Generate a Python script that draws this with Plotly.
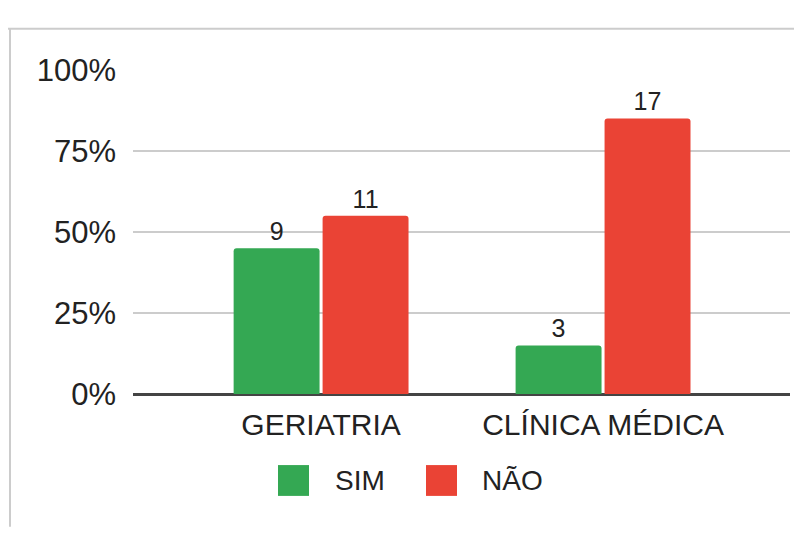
import plotly.graph_objects as go

categories = ["GERIATRIA", "CLÍNICA MÉDICA"]
series_names = ["SIM", "NÃO"]
sim_counts = [9, 3]
nao_counts = [11, 17]
colors = ["#34A853", "#EA4335"]
y_ticks = [0, 0.25, 0.5, 0.75, 1.0]
y_tick_labels = ["0%", "25%", "50%", "75%", "100%"]

W, H = 802, 533
OFF = 8  # page body margin


def px(x):
    return (x - OFF) / W


def py(y):
    return 1 - (y - OFF) / H


totals = [s + n for s, n in zip(sim_counts, nao_counts)]
sim_pct = [s / t for s, t in zip(sim_counts, totals)]
nao_pct = [n / t for n, t in zip(nao_counts, totals)]
xpos = list(range(len(categories)))

font = "Liberation Sans, Arial, sans-serif"
txt = "#222222"

fig = go.Figure()
for name, counts, pct, col in [(series_names[0], sim_counts, sim_pct, colors[0]),
                                (series_names[1], nao_counts, nao_pct, colors[1])]:
    fig.add_trace(go.Bar(
        x=xpos, y=pct, name=name,
        marker=dict(color=col, cornerradius=3, line=dict(width=0)),
        text=[str(c) for c in counts], textposition="outside",
        textfont=dict(size=25, color=txt, family=font),
        cliponaxis=False, showlegend=False,
    ))

fig.update_layout(
    width=W, height=H, margin=dict(l=0, r=0, t=0, b=0),
    paper_bgcolor="white", plot_bgcolor="white",
    barmode="group", bargap=0.369, bargroupgap=0.034,
    font=dict(family=font, color=txt),
    xaxis=dict(domain=[px(133), px(790)], range=[-0.667, 1.663],
               tickvals=xpos, ticktext=categories, showgrid=False, zeroline=False,
               showline=False, tickfont=dict(size=30, color=txt), ticks="",
               ticklabelstandoff=10),
    yaxis=dict(domain=[py(403), py(56)], range=[0, 1],
               tickvals=y_ticks, ticktext=y_tick_labels,
               showgrid=True, gridcolor="#cccccc", gridwidth=2,
               zeroline=True, zerolinecolor="#444444", zerolinewidth=3,
               showline=False, ticks="", tickfont=dict(size=31, color=txt),
               ticklabelstandoff=16),
)

# outer frame (top and left edges)
fig.add_shape(type="line", xref="paper", yref="paper", x0=px(6), x1=px(810), y0=py(12), y1=py(12),
              line=dict(color="#cccccc", width=2))
fig.add_shape(type="line", xref="paper", yref="paper", x0=px(10), x1=px(10), y0=py(545), y1=py(12),
              line=dict(color="#cccccc", width=2))

# legend drawn manually (large swatches)
legend_items = [(series_names[0], colors[0], 278, 333), (series_names[1], colors[1], 426, 480)]
for name, col, sx, tx in legend_items:
    fig.add_shape(type="rect", xref="paper", yref="paper",
                  x0=px(sx), x1=px(sx + 31), y0=py(512), y1=py(479),
                  fillcolor=col, line=dict(width=0))
    fig.add_annotation(xref="paper", yref="paper", x=px(tx), y=py(496),
                       xanchor="left", yanchor="middle", text=name, showarrow=False,
                       font=dict(size=28, color=txt, family=font))

fig.write_html("out.html")
